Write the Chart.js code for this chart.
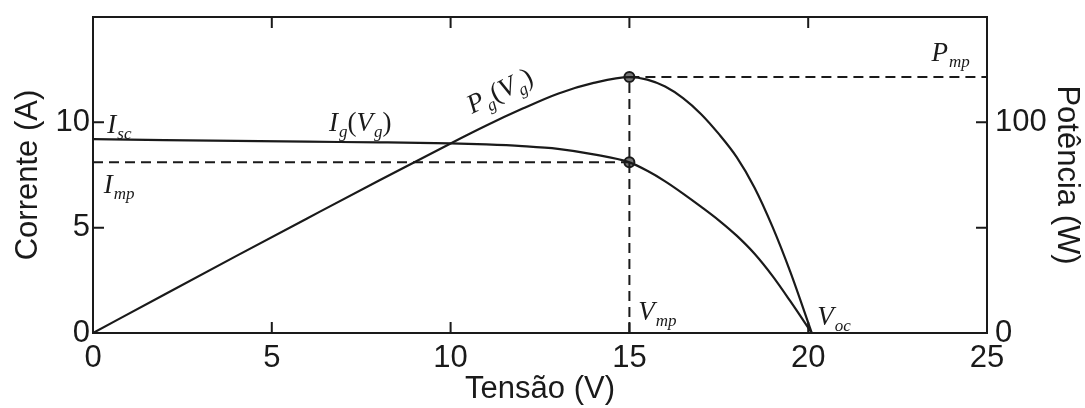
<!DOCTYPE html>
<html>
<head>
<meta charset="utf-8">
<script src="https://cdn.jsdelivr.net/npm/chart.js@4.4.0/dist/chart.umd.min.js"></script>
<style>
  html, body { margin: 0; padding: 0; background: #fff; }
  #wrap { width: 1085px; height: 408px; position: relative; }
</style>
</head>
<body>
<div id="wrap"><canvas id="pvCanvas"></canvas></div>
<script>
// curve I(V)
const voltageI = [0, 2, 4, 6, 8, 10, 11, 12, 13, 14, 15, 15.5, 16, 16.5, 17, 17.5, 18, 18.5, 19, 19.5, 20.1]
const current = [9.2, 9.16, 9.12, 9.08, 9.05, 9.0, 8.95, 8.87, 8.74, 8.48, 8.1, 7.7, 7.2, 6.62, 6.0, 5.35, 4.62, 3.76, 2.71, 1.51, 0]

// curve P(V)
const voltageP = [0, 2, 4, 6, 8, 10, 11, 12, 13, 14, 15, 15.5, 16, 16.5, 17, 17.5, 18, 18.5, 19, 19.5, 20.1]
const power = [0, 18.3, 36.5, 54.5, 72.4, 90, 98.5, 106.4, 113.6, 118.7, 121.5, 120.3, 117, 111.5, 104, 94.5, 83.5, 69, 50.5, 29, 0]

// maximum power point
const vmp = 15
const imp = 8.1
const pmp = 121.5

const xTicks = [0, 5, 10, 15, 20, 25]
const currentTicks = [0, 5, 10]
const powerTicks = [0, 50, 100]
const powerTickLabels = ['0', '', '100']

const ink = '#1a1a1a'
const sansFont = '"Liberation Sans", Arial, sans-serif'
const mathFont = '"Liberation Serif", "DejaVu Serif", serif'

const toPoints = (xs, ys) => xs.map((x, i) => ({ x: x, y: ys[i] }))

const curveStyle = {
    borderColor: ink,
    borderWidth: 2.2,
    pointRadius: 0,
    fill: false,
    cubicInterpolationMode: 'monotone'
}
const dashStyle = {
    borderColor: ink,
    borderWidth: 2,
    borderDash: [10, 6],
    pointRadius: 0,
    fill: false
}
const markerStyle = {
    showLine: false,
    pointRadius: 5,
    pointBackgroundColor: '#777',
    pointBorderColor: ink,
    pointBorderWidth: 2
}

// box + inward tick marks, like the matlab figure
const frameTicks = {
    id: 'frameTicks',
    afterDraw(chart) {
        const { ctx, chartArea: a, scales } = chart
        const len = 11
        ctx.save()
        ctx.strokeStyle = ink
        ctx.lineWidth = 2
        ctx.strokeRect(a.left, a.top, a.right - a.left, a.bottom - a.top)
        ctx.beginPath()
        xTicks.slice(1, -1).forEach(v => {
            const px = scales.x.getPixelForValue(v)
            ctx.moveTo(px, a.bottom); ctx.lineTo(px, a.bottom - len)
            ctx.moveTo(px, a.top); ctx.lineTo(px, a.top + len)
        })
        currentTicks.slice(1).forEach(v => {
            const py = scales.yI.getPixelForValue(v)
            ctx.moveTo(a.left, py); ctx.lineTo(a.left + len, py)
        })
        powerTicks.slice(1).forEach(v => {
            const py = scales.yP.getPixelForValue(v)
            ctx.moveTo(a.right, py); ctx.lineTo(a.right - len, py)
        })
        ctx.stroke()
        ctx.restore()
    }
}

// math labels: [text, 'n' | 's' | 'r'] -> normal italic, subscript, roman
function drawMath(ctx, x, y, parts, size) {
    let cx = x
    parts.forEach(([t, kind]) => {
        if (kind === 's') {
            ctx.font = `italic ${Math.round(size * 0.62)}px ${mathFont}`
            ctx.fillText(t, cx, y + size * 0.22)
        } else if (kind === 'r') {
            ctx.font = `${size}px ${mathFont}`
            ctx.fillText(t, cx, y)
        } else {
            ctx.font = `italic ${size}px ${mathFont}`
            ctx.fillText(t, cx, y)
        }
        cx += ctx.measureText(t).width + (kind === 'n' ? 1 : 0)
    })
}

const mathLabels = [
    { v: 0.4, val: 9.5, axis: 'yI', parts: [['I', 'n'], ['sc', 's']] },
    { v: 0.3, val: 6.65, axis: 'yI', parts: [['I', 'n'], ['mp', 's']] },
    { v: 6.6, val: 9.58, axis: 'yI', parts: [['I', 'n'], ['g', 's'], ['(', 'r'], ['V', 'n'], ['g', 's'], [')', 'r']] },
    { v: 10.6, val: 104, axis: 'yP', rot: -0.46, parts: [['P', 'n'], ['g', 's'], ['(', 'r'], ['V', 'n'], ['g', 's'], [')', 'r']] },
    { v: 23.45, val: 129, axis: 'yP', parts: [['P', 'n'], ['mp', 's']] },
    { v: 15.25, val: 0.6, axis: 'yI', parts: [['V', 'n'], ['mp', 's']] },
    { v: 20.25, val: 0.4, axis: 'yI', parts: [['V', 'n'], ['oc', 's']] }
]

const mathText = {
    id: 'mathText',
    afterDatasetsDraw(chart) {
        const { ctx, scales } = chart
        ctx.save()
        ctx.fillStyle = ink
        ctx.textBaseline = 'alphabetic'
        ctx.textAlign = 'left'
        mathLabels.forEach(l => {
            const px = scales.x.getPixelForValue(l.v)
            const py = scales[l.axis].getPixelForValue(l.val)
            ctx.save()
            ctx.translate(px, py)
            if (l.rot) ctx.rotate(l.rot)
            drawMath(ctx, 0, 0, l.parts, 27)
            ctx.restore()
        })
        ctx.restore()
    }
}

const tickFont = { family: sansFont, size: 31 }

const fitY = w => s => { s.width = w; s.paddingTop = 0; s.paddingBottom = 0 }

const config = {
    type: 'line',
    data: {
        datasets: [
            Object.assign({ data: toPoints([0, vmp], [imp, imp]), yAxisID: 'yI' }, dashStyle),
            Object.assign({ data: toPoints([vmp, 25], [pmp, pmp]), yAxisID: 'yP' }, dashStyle),
            Object.assign({ data: toPoints([vmp, vmp], [0, pmp]), yAxisID: 'yP' }, dashStyle),
            Object.assign({ data: toPoints(voltageI, current), yAxisID: 'yI' }, curveStyle),
            Object.assign({ data: toPoints(voltageP, power), yAxisID: 'yP' }, curveStyle),
            Object.assign({ data: [{ x: vmp, y: imp }], yAxisID: 'yI' }, markerStyle),
            Object.assign({ data: [{ x: vmp, y: pmp }], yAxisID: 'yP' }, markerStyle)
        ]
    },
    options: {
        responsive: true,
        maintainAspectRatio: false,
        animation: false,
        layout: { padding: { top: 17, left: 0, right: 0, bottom: 0 } },
        plugins: {
            legend: { display: false },
            tooltip: { enabled: false }
        },
        scales: {
            x: {
                type: 'linear',
                min: 0,
                max: 25,
                grid: { display: false, drawTicks: false },
                border: { display: false },
                afterBuildTicks: s => { s.ticks = xTicks.map(v => ({ value: v })) },
                afterFit: s => { s.height = 75; s.paddingLeft = 0; s.paddingRight = 0 },
                ticks: { color: ink, font: tickFont, padding: 7, maxRotation: 0, autoSkip: false },
                title: { display: true, text: 'Tensão (V)', color: ink, font: tickFont, padding: { top: 0, bottom: 0 } }
            },
            yI: {
                type: 'linear',
                position: 'left',
                min: 0,
                max: 15,
                grid: { display: false, drawTicks: false },
                border: { display: false },
                afterBuildTicks: s => { s.ticks = currentTicks.map(v => ({ value: v })) },
                afterFit: fitY(93),
                ticks: { color: ink, font: tickFont, padding: 3 },
                title: { display: true, text: 'Corrente (A)', color: ink, font: tickFont, padding: { top: 10, bottom: 0 } }
            },
            yP: {
                type: 'linear',
                position: 'right',
                min: 0,
                max: 150,
                grid: { display: false, drawTicks: false },
                border: { display: false },
                afterBuildTicks: s => { s.ticks = powerTicks.map(v => ({ value: v })) },
                afterFit: fitY(98),
                ticks: {
                    color: ink, font: tickFont, padding: 8,
                    callback: (v, i) => powerTickLabels[i]
                },
                title: { display: true, text: 'Potência (W)', color: ink, font: tickFont, padding: { top: 0, bottom: 0 } }
            }
        }
    },
    plugins: [frameTicks, mathText]
}

new Chart(document.querySelector('#pvCanvas'), config)
</script>
</body>
</html>
